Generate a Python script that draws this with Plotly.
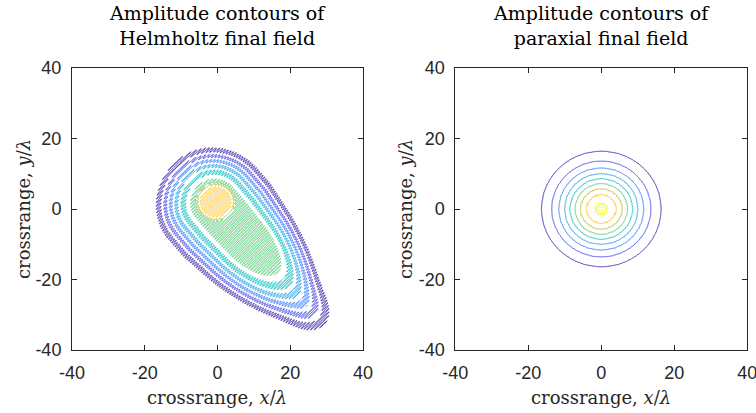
import numpy as np
import plotly.graph_objects as go

# ---- contour levels and colours (parula samples) ----
levels = [0.1, 0.2, 0.3, 0.4, 0.5, 0.6, 0.7, 0.8, 0.9]
parula_stops = [0.0, 0.125, 0.25, 0.375, 0.5, 0.625, 0.75, 0.875, 1.0]
parula_rgb = [
    (0.2422, 0.1504, 0.6603),
    (0.2803, 0.2782, 0.9221),
    (0.1963, 0.4847, 0.9892),
    (0.1380, 0.6276, 0.8973),
    (0.0433, 0.7411, 0.7394),
    (0.3406, 0.8008, 0.4789),
    (0.7242, 0.7698, 0.1910),
    (0.9952, 0.7893, 0.2028),
    (0.9769, 0.9839, 0.0805),
]

# ---- axis ticks ----
tick_vals = [-40, -20, 0, 20, 40]
tick_text = ["-40", "-20", "0", "20", "40"]

# ---- paraxial beam: centred Gaussian amplitude with slight speckle ----
parax_amp = 0.915
parax_waist = 11.0
parax_speckle = 0.02
parax_speckle_k = 8.0

# ---- Helmholtz beam: axis direction, body, peak, tail ----
helm_origin = (-0.5, 2.0)
helm_angle_deg = -50.0
body_amp = 0.61
body_len = 14.0
body_width = 13.0          # cross-axis half-width scale near the peak
body_taper = 0.11          # width lost per unit length past taper_start
taper_start = 6.0
body_skew = 0.8
body_power = 4.0
back_width = 13.0          # fall-off scale behind the peak
front_width = 24.0         # fall-off scale past the far end of the body
peak_amp = 0.805
peak_radius = 6.4
tail_amp = 0.08
tail_u = 41.0
tail_su = 6.0
tail_sv = 6.0
helm_ripple = 0.035
helm_ripple_k = (6.4, -6.4)

step = 0.15


def parula_scale():
    return [[s, "rgb(%d,%d,%d)" % tuple(int(round(255 * c)) for c in rgb)]
            for s, rgb in zip(parula_stops, parula_rgb)]


# paraxial field
xr = np.arange(-20, 20 + step / 2, step)
yr = np.arange(-20, 20 + step / 2, step)
XR, YR = np.meshgrid(xr, yr)
ZR = parax_amp * np.exp(-(XR ** 2 + YR ** 2) / parax_waist ** 2)
ZR *= 1 + parax_speckle * 0.5 * (np.cos(parax_speckle_k * XR) + np.cos(parax_speckle_k * YR))

# Helmholtz field
xh = np.arange(-22, 36 + step / 2, step)
yh = np.arange(-40, 22 + step / 2, step)
XH, YH = np.meshgrid(xh, yh)
th = np.deg2rad(helm_angle_deg)
dx = XH - helm_origin[0]
dy = YH - helm_origin[1]
U = dx * np.cos(th) + dy * np.sin(th)
V = -dx * np.sin(th) + dy * np.cos(th)
Uc = np.clip(U, 0, body_len)
Wa = np.where(U < 0, back_width, front_width)
W = body_width - body_taper * np.clip(U - taper_start, 0, None)
W = W - body_skew * np.tanh(V / 4.0)
R2 = ((U - Uc) / Wa) ** 2 + (V / W) ** 2
body = body_amp * np.exp(-R2 ** (body_power / 2))
peak = peak_amp * np.exp(-(np.sqrt(U ** 2 + V ** 2) / peak_radius) ** 8)
tail = tail_amp * np.exp(-((U - tail_u) / tail_su) ** 2 - (V / tail_sv) ** 2)
ZH = np.maximum(body, peak) + tail
ZH += helm_ripple * np.cos(helm_ripple_k[0] * XH + helm_ripple_k[1] * YH)

ZR = np.round(ZR, 4)
ZH = np.round(ZH, 4)

contour_common = dict(
    autocontour=False,
    contours=dict(start=levels[0], end=levels[-1], size=levels[1] - levels[0],
                  coloring="lines", showlabels=False),
    zmin=levels[0], zmax=levels[-1],
    colorscale=parula_scale(),
    showscale=False,
    line=dict(width=1, smoothing=0),
    hoverinfo="skip",
)

fig = go.Figure()
fig.add_trace(go.Contour(x=xh, y=yh, z=ZH, xaxis="x", yaxis="y", **contour_common))
fig.add_trace(go.Contour(x=xr, y=yr, z=ZR, xaxis="x2", yaxis="y2", **contour_common))

ink = "#262626"
tick_font = dict(family="Liberation Sans, Arial, sans-serif", size=18, color=ink)
serif = "DejaVu Serif, serif"


def axis_style(domain, anchor):
    return dict(
        domain=domain, anchor=anchor, range=[-40, 40], automargin=False,
        tickmode="array", tickvals=tick_vals, ticktext=tick_text,
        ticks="inside", ticklen=5, tickwidth=1, tickcolor=ink,
        showline=True, linecolor=ink, linewidth=1, mirror="ticks",
        showgrid=False, zeroline=False, tickfont=tick_font,
        ticklabelstandoff=6, ticklabeloverflow="allow",
    )


ydom = [1 - 350 / 413, 1 - 68 / 413]
left_dom = [72 / 756, 363 / 756]
right_dom = [455.3 / 756, 747.3 / 756]

fig.update_layout(
    width=756, height=413,
    margin=dict(l=0, r=0, t=0, b=0, autoexpand=False),
    paper_bgcolor="white", plot_bgcolor="white",
    showlegend=False,
    xaxis=axis_style(left_dom, "y"),
    yaxis=axis_style(ydom, "x"),
    xaxis2=axis_style(right_dom, "y2"),
    yaxis2=axis_style(ydom, "x2"),
)

titles = ["Amplitude contours of<br>Helmholtz final field",
          "Amplitude contours of<br>paraxial final field"]
for dom, title, ylab_x in [(left_dom, titles[0], 24), (right_dom, titles[1], 406)]:
    cx = (dom[0] + dom[1]) / 2
    fig.add_annotation(text=title, x=cx, y=1 - 26 / 413, xref="paper", yref="paper",
                       xanchor="center", yanchor="middle", showarrow=False,
                       font=dict(family=serif, size=19, color="black"))
    fig.add_annotation(text="crossrange, <i>x</i>/<i>λ</i>", x=cx, y=1 - 397 / 413,
                       xref="paper", yref="paper", xanchor="center", yanchor="middle",
                       showarrow=False, font=dict(family=serif, size=18, color=ink))
    fig.add_annotation(text="crossrange, <i>y</i>/<i>λ</i>", x=ylab_x / 756,
                       y=(ydom[0] + ydom[1]) / 2, xref="paper", yref="paper",
                       xanchor="center", yanchor="middle", textangle=-90,
                       showarrow=False, font=dict(family=serif, size=18, color=ink))

fig.write_html("out.html")
